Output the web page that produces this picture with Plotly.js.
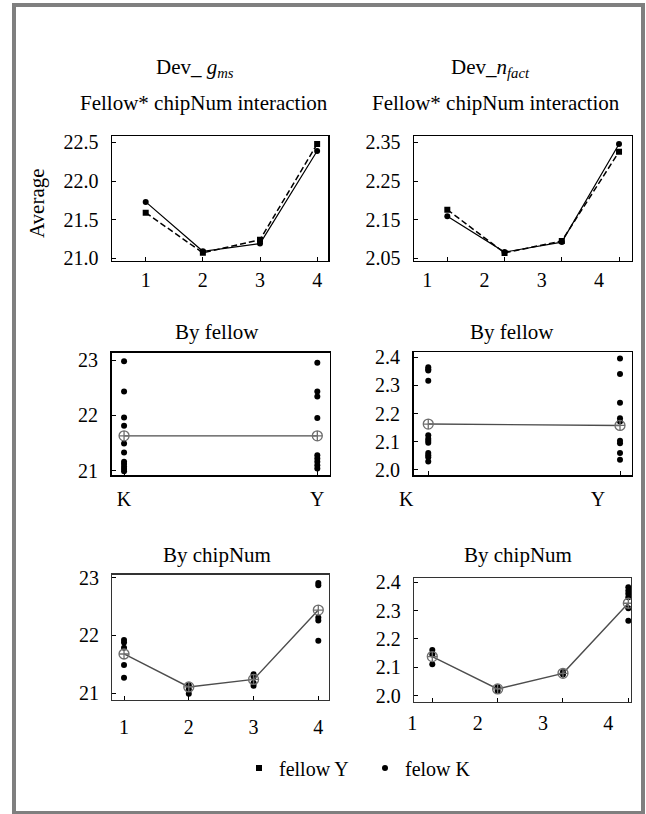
<!DOCTYPE html>
<html>
<head>
<meta charset="utf-8">
<script src="https://cdn.plot.ly/plotly-3.0.1.min.js"></script>
<style>
  html, body { margin: 0; padding: 0; background: #ffffff; }
  #wrap { position: relative; width: 646px; height: 814px; overflow: hidden; }
  #chart { position: absolute; left: 0; top: 0; width: 646px; height: 814px; }
  #frame {
    position: absolute; left: 12px; top: 3px; width: 633px; height: 811px;
    box-sizing: border-box; border: 4px solid #7f7f7f; border-bottom-width: 3px;
    pointer-events: none;
  }
</style>
</head>
<body>
<div id="wrap">
  <div id="chart"></div>
  <div id="frame"></div>
</div>
<script>
// ---- data ----
const chips = [1, 2, 3, 4];
const fellows = ['K', 'Y'];

// Fellow * chipNum interaction averages
const gmsFellowY = [21.59, 21.07, 21.24, 22.48];
const gmsFellowK = [21.73, 21.09, 21.19, 22.39];
const nfactFellowY = [2.176, 2.064, 2.095, 2.326];
const nfactFellowK = [2.159, 2.066, 2.092, 2.346];

// Dev_gms grouped by fellow
const gmsByFellowK = [22.98, 22.43, 21.96, 21.81, 21.49, 21.33, 21.16, 21.12, 21.07, 21.03, 20.99];
const gmsByFellowY = [22.95, 22.43, 22.34, 21.95, 21.28, 21.22, 21.16, 21.10, 21.04];
const gmsFellowMean = [21.63, 21.63];

// Dev_nfact grouped by fellow
const nfactByFellowK = [2.365, 2.358, 2.353, 2.317, 2.123, 2.111, 2.104, 2.097, 2.060, 2.052, 2.045, 2.030];
const nfactByFellowY = [2.396, 2.341, 2.239, 2.184, 2.172, 2.104, 2.095, 2.060, 2.036];
const nfactFellowMean = [2.163, 2.158];

// Dev_gms grouped by chip
const gmsChip1 = [21.92, 21.88, 21.79, 21.49, 21.27];
const gmsChip2 = [21.14, 21.07, 20.99];
const gmsChip3 = [21.33, 21.29, 21.18, 21.13];
const gmsChip4 = [22.91, 22.87, 22.31, 22.26, 21.91];
const gmsChipMean = [21.68, 21.11, 21.24, 22.44];

// Dev_nfact grouped by chip
const nfactChip1 = [2.161, 2.145, 2.111];
const nfactChip2 = [2.030, 2.018];
const nfactChip3 = [2.084, 2.075];
const nfactChip4 = [2.382, 2.370, 2.359, 2.347, 2.308, 2.264];
const nfactChipMean = [2.138, 2.024, 2.079, 2.326];

// tick labels
const chipTicks = ['1', '2', '3', '4'];
const gmsTopTicks = [21.0, 21.5, 22.0, 22.5];
const nfactTopTicks = [2.05, 2.15, 2.25, 2.35];
const gmsTicks = [21, 22, 23];
const nfactTicks = [2.0, 2.1, 2.2, 2.3, 2.4];

// ---- helpers ----
const W = 646, H = 814;
const FONT = "'Liberation Serif', serif";
const px = v => v / W;
const py = v => 1 - v / H;

function groupPoints(keys, groups) {
  const xs = [], ys = [];
  groups.forEach((g, i) => g.forEach(v => { xs.push(keys[i]); ys.push(v); }));
  return { x: xs, y: ys };
}

const dotStyle = { color: '#000000', size: 6, symbol: 'circle' };
const meanMarker = { color: '#6e6e6e', size: 10, symbol: 'circle-cross-open', line: { width: 1.3, color: '#6e6e6e' } };
const meanLine = { color: '#4d4d4d', width: 1.4 };

const traces = [];

// Top row: interaction plots
[[gmsFellowY, gmsFellowK, 'x', 'y'], [nfactFellowY, nfactFellowK, 'x2', 'y2']].forEach(([ys, ks, xa, ya]) => {
  traces.push({ x: chips, y: ys, xaxis: xa, yaxis: ya, mode: 'lines', showlegend: false, hoverinfo: 'skip',
    line: { color: '#000', width: 1.5, dash: '6px,3px' } });
  traces.push({ x: chips, y: ks, xaxis: xa, yaxis: ya, mode: 'lines', showlegend: false, hoverinfo: 'skip',
    line: { color: '#000', width: 1.2 } });
  traces.push({ x: chips, y: ys, xaxis: xa, yaxis: ya, mode: 'markers', name: 'fellow Y',
    showlegend: xa === 'x', legendrank: 1, marker: { color: '#000', size: 6, symbol: 'square' } });
  traces.push({ x: chips, y: ks, xaxis: xa, yaxis: ya, mode: 'markers', name: 'felow K',
    showlegend: xa === 'x', legendrank: 2, marker: { color: '#000', size: 6, symbol: 'circle' } });
});

// Middle row: by fellow
[[gmsByFellowK, gmsByFellowY, gmsFellowMean, 'x3', 'y3'], [nfactByFellowK, nfactByFellowY, nfactFellowMean, 'x4', 'y4']].forEach(([k, y, m, xa, ya]) => {
  const pts = groupPoints(fellows, [k, y]);
  traces.push({ x: pts.x, y: pts.y, xaxis: xa, yaxis: ya, mode: 'markers', showlegend: false, marker: dotStyle });
  traces.push({ x: fellows, y: m, xaxis: xa, yaxis: ya, mode: 'lines+markers', showlegend: false,
    line: meanLine, marker: meanMarker });
});

// Bottom row: by chip
[[[gmsChip1, gmsChip2, gmsChip3, gmsChip4], gmsChipMean, 'x5', 'y5'],
 [[nfactChip1, nfactChip2, nfactChip3, nfactChip4], nfactChipMean, 'x6', 'y6']].forEach(([g, m, xa, ya]) => {
  const pts = groupPoints(chips, g);
  traces.push({ x: pts.x, y: pts.y, xaxis: xa, yaxis: ya, mode: 'markers', showlegend: false, marker: dotStyle });
  traces.push({ x: chips, y: m, xaxis: xa, yaxis: ya, mode: 'lines+markers', showlegend: false,
    line: meanLine, marker: meanMarker });
});

// ---- axes ----
const tickFont = { family: FONT, size: 20, color: '#000' };
function xAxis(domainPx, range, anchor, opts) {
  return Object.assign({
    domain: [px(domainPx[0]), px(domainPx[1])], range: range, anchor: anchor,
    showline: true, mirror: true, linecolor: '#000', linewidth: 1.5,
    showgrid: false, zeroline: false, ticks: 'inside', ticklen: 4, tickwidth: 1, tickcolor: '#000',
    tickfont: tickFont, fixedrange: true
  }, opts);
}
function yAxis(domainPx, range, anchor, opts) {
  return Object.assign({
    domain: [py(domainPx[1]), py(domainPx[0])], range: range, anchor: anchor,
    showline: true, mirror: true, linecolor: '#000', linewidth: 1.5,
    showgrid: false, zeroline: false, ticks: 'inside', ticklen: 4, tickwidth: 1, tickcolor: '#000',
    tickfont: tickFont, fixedrange: true, ticklabelstandoff: 8
  }, opts);
}

const layout = {
  width: W, height: H,
  margin: { l: 0, r: 0, t: 0, b: 0 },
  paper_bgcolor: '#fff', plot_bgcolor: '#fff',
  font: { family: FONT, color: '#000' },
  showlegend: true,
  legend: {
    orientation: 'h', x: px(239), xanchor: 'left', y: py(768), yanchor: 'middle',
    font: { family: FONT, size: 20, color: '#000' }, itemwidth: 30, entrywidth: 81,
    bgcolor: 'rgba(0,0,0,0)'
  },
  xaxis: xAxis([112, 328], [0.41, 4.19], 'y', { tickvals: chips, ticktext: chipTicks, ticklabelstandoff: 1 }),
  yaxis: yAxis([136, 260.5], [20.971, 22.584], 'x', { tickvals: gmsTopTicks, tickformat: '.1f' }),
  xaxis2: xAxis([414, 631.5], [0.418, 4.218], 'y2', { tickvals: chips, ticktext: chipTicks, ticklabelshift: -20, ticklabelstandoff: 1 }),
  yaxis2: yAxis([136, 260.5], [2.0443, 2.3668], 'x2', { tickvals: nfactTopTicks, tickformat: '.2f' }),
  xaxis3: xAxis([111.5, 329.5], [-0.065, 1.063], 'y3', { type: 'category', categoryarray: fellows, ticklabelstandoff: 5 }),
  yaxis3: yAxis([352.5, 475], [20.922, 23.136], 'x3', { tickvals: gmsTicks }),
  xaxis4: xAxis([413.5, 631.5], [-0.077, 1.06], 'y4', { type: 'category', categoryarray: fellows, ticklabelshift: -22, ticklabelstandoff: 5 }),
  yaxis4: yAxis([352, 475], [1.982, 2.419], 'x4', { tickvals: nfactTicks, tickformat: '.1f' }),
  xaxis5: xAxis([112.3, 329], [0.819, 4.165], 'y5', { tickvals: chips, ticktext: chipTicks, ticklabelstandoff: 9, linecolor: '#333', linewidth: 1.2 }),
  yaxis5: yAxis([574.5, 700], [20.884, 23.055], 'x5', { tickvals: gmsTicks, linecolor: '#333', linewidth: 1.2 }),
  xaxis6: xAxis([414, 631], [0.72, 4.041], 'y6', { tickvals: chips, ticktext: chipTicks, ticklabelshift: -20, ticklabelstandoff: 3, linecolor: '#333', linewidth: 1.2 }),
  yaxis6: yAxis([577.7, 701.7], [1.979, 2.416], 'x6', { tickvals: nfactTicks, tickformat: '.1f', linecolor: '#333', linewidth: 1.2 }),
  annotations: []
};

// ---- panel titles ----
const titles = [
  ['Dev_ <i>g</i><sub><i>ms</i></sub>', 195, 68],
  ['Fellow* chipNum interaction', 204, 103],
  ['Dev_<i>n</i><sub><i>fact</i></sub>', 490.5, 68],
  ['Fellow* chipNum interaction', 496, 103],
  ['By fellow', 216.7, 332],
  ['By fellow', 511.7, 332],
  ['By chipNum', 216.7, 555],
  ['By chipNum', 518, 555]
];
titles.forEach(([t, x, y]) => layout.annotations.push({
  text: t, xref: 'paper', yref: 'paper', x: px(x), y: py(y), xanchor: 'center', yanchor: 'middle',
  showarrow: false, font: { family: FONT, size: 21, color: '#000' }
}));
layout.annotations.push({
  text: 'Average', xref: 'paper', yref: 'paper', x: px(37), y: py(203), xanchor: 'center', yanchor: 'middle',
  textangle: -90, showarrow: false, font: { family: FONT, size: 21, color: '#000' }
});

Plotly.newPlot('chart', traces, layout, { staticPlot: true, displayModeBar: false });
</script>
</body>
</html>
